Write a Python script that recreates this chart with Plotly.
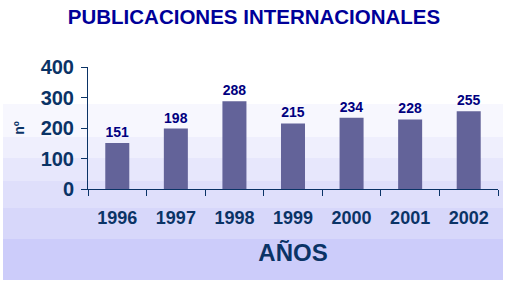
import plotly.graph_objects as go

years = ["1996", "1997", "1998", "1999", "2000", "2001", "2002"]
values = [151, 198, 288, 215, 234, 228, 255]
band_colors = ["#f7f7fe", "#efeffd", "#e7e7fc", "#dfdffb", "#d7d7fa", "#ccccfa"]
band_edges_px = [104, 137, 158, 181, 208, 239, 280]

W, H = 508, 285
L, R, T, B = 88, 10, 67, 96
pw, ph = W - L - R, H - T - B

def py(y):
    return (H - B - y) / ph

def px(x):
    return (x - L) / pw

shapes = []
for i, c in enumerate(band_colors):
    shapes.append(dict(type="rect", xref="paper", yref="paper",
                       x0=px(3), x1=px(503), y0=py(band_edges_px[i + 1]), y1=py(band_edges_px[i]),
                       fillcolor=c, line=dict(width=0), layer="below"))

fig = go.Figure(go.Bar(
    x=years, y=values, marker=dict(color="#636399", line=dict(width=0)),
    text=["<b>%d</b>" % v for v in values], textposition="outside",
    textfont=dict(family="Arial, Liberation Sans", size=14, color="#000080"),
    cliponaxis=False, width=0.41,
))

fig.update_layout(
    width=W, height=H, margin=dict(l=L, r=R, t=T, b=B),
    paper_bgcolor="white", plot_bgcolor="rgba(0,0,0,0)",
    shapes=shapes, showlegend=False,
    title=dict(text="<b>PUBLICACIONES INTERNACIONALES</b>", x=0.5, xanchor="center",
               y=1 - 17 / H, yanchor="middle",
               font=dict(family="Arial, Liberation Sans", size=20.5, color="#000099")),
    font=dict(family="Arial, Liberation Sans"),
)
fig.update_yaxes(range=[0, 400], dtick=100, showgrid=False, zeroline=False,
                 showline=True, linecolor="#0a3366", linewidth=1,
                 ticks="outside", ticklen=6, tickcolor="#0a3366",
                 tickfont=dict(size=20, color="#0a3366", weight="bold"),
                 ticklabelstandoff=3,
                 title=dict(text="<b>nº</b>", standoff=12,
                            font=dict(size=14, color="#0a3366")))
fig.update_xaxes(showgrid=False, showline=True, linecolor="#0a3366", linewidth=1,
                 ticks="outside", ticklen=6, tickcolor="#0a3366", tickson="boundaries",
                 tickfont=dict(size=18, color="#0a3366", weight="bold"),
                 ticklabelstandoff=12,
                 title=dict(text="<b>AÑOS</b>", standoff=17,
                            font=dict(size=24, color="#0a3366")))

fig.write_html("out.html")
